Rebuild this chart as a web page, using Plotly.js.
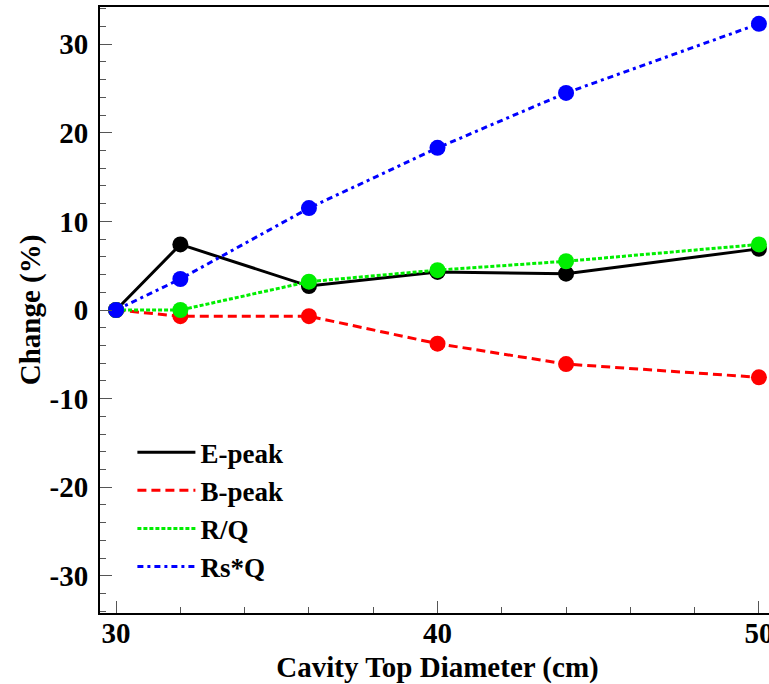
<!DOCTYPE html>
<html><head><meta charset="utf-8">
<script src="https://cdn.plot.ly/plotly-3.0.1.min.js"></script>
<style>html,body{margin:0;padding:0;overflow:hidden;background:#fff}</style>
</head><body><div id="chart"></div>
<script>
const diameters = [30, 32, 36, 40, 44, 50];
const ePeak = [0, 7.4, 2.7, 4.3, 4.1, 6.9];
const bPeak = [0, -0.7, -0.7, -3.8, -6.1, -7.6];
const rOverQ = [0, 0, 3.2, 4.5, 5.5, 7.4];
const rsQ = [0, 3.5, 11.5, 18.3, 24.5, 32.3];
const seriesNames = ['E-peak', 'B-peak', 'R/Q', 'Rs*Q'];
const xTickVals = [30, 40, 50];
const yTickVals = [-30, -20, -10, 0, 10, 20, 30];
const yTickText = ['-30', '-20', '-10', '0', '10', '20', '30'];
const seriesValues = [ePeak, bPeak, rOverQ, rsQ];
const colors = ['#000000', '#ff0000', '#00ee00', '#0000ff'];
const dashes = ['solid', '9px,5px', '4px,2px', '6px,4px,3px,4px'];
const widths = [3, 3, 3, 3];

const traces = [];
seriesValues.forEach((vals, i) => {
  traces.push({x: diameters, y: vals, mode: 'lines+markers', showlegend: false,
    line: {color: colors[i], dash: dashes[i], width: widths[i]},
    marker: {color: colors[i], size: 16}, cliponaxis: false});
});
seriesValues.forEach((vals, i) => {
  traces.push({x: [null], y: [null], mode: 'lines', name: seriesNames[i],
    line: {color: colors[i], dash: dashes[i], width: widths[i]}});
});

const font = {family: 'Liberation Serif, Times New Roman, serif', size: 29, color: '#000', weight: 'bold'};
const legendFont = Object.assign({}, font, {size: 27});
const layout = {
  width: 775, height: 684,
  margin: {l: 100, r: 0, t: 7, b: 71},
  paper_bgcolor: '#fff', plot_bgcolor: '#fff',
  font: font,
  showlegend: true,
  legend: {x: 0.048, y: 0.305, xanchor: 'left', yanchor: 'top', bgcolor: 'rgba(0,0,0,0)',
    font: legendFont, itemwidth: 58, tracegroupgap: 0},
  xaxis: {range: [29.5, 50.5], tickvals: xTickVals, showgrid: false, zeroline: false,
    showline: true, linecolor: '#000', linewidth: 2, mirror: true,
    ticks: 'inside', ticklen: 12, tickwidth: 1, tickcolor: '#555', ticklabelstandoff: -7,
    minor: {dtick: 2, tick0: 30, ticks: 'inside', ticklen: 6, tickcolor: '#555', showgrid: false},
    tickfont: font, title: {text: 'Cavity Top Diameter (cm)', font: font, standoff: 10}},
  yaxis: {range: [-34.2, 34.2], tickvals: yTickVals, ticktext: yTickText, showgrid: false, zeroline: false,
    showline: true, linecolor: '#000', linewidth: 2, mirror: true,
    ticks: 'inside', ticklen: 12, tickwidth: 1, tickcolor: '#555', ticklabelstandoff: 4,
    minor: {dtick: 2, tick0: 0, ticks: 'inside', ticklen: 6, tickcolor: '#555', showgrid: false},
    tickfont: font, title: {text: 'Change (%)', font: font, standoff: 0}}
};
Plotly.newPlot('chart', traces, layout, {displayModeBar: false, staticPlot: true});
</script></body></html>
